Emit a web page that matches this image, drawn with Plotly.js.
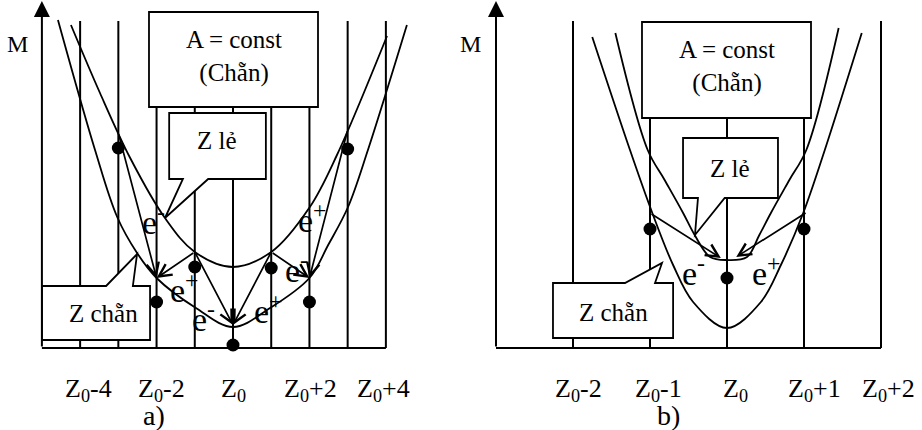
<!DOCTYPE html>
<html>
<head>
<meta charset="utf-8">
<script src="https://cdn.plot.ly/plotly-3.0.1.min.js"></script>
<style>
  html, body { margin: 0; padding: 0; background: #fff; }
  #chart { width: 922px; height: 430px; }
</style>
</head>
<body>
<div id="chart"></div>
<script>
// ---- a) mass parabolas, Z in units relative to Z0, M in arbitrary mass units ----
const lowerA_Z = [-4.58, -3.61, -3.03, -2.51, -2.0, -0.97, 0, 0.97, 2.0, 2.49, 3.01, 3.53, 4.55];
const lowerA_M = [328, 198, 131, 95, 70, 40, 21, 40, 70, 103, 141, 198, 323];
const upperA_Z = [-4.24, -3.48, -2.69, -1.78, -1.0, 0, 1.0, 2.01, 2.72, 4.03];
const upperA_M = [323, 255, 190, 130, 96, 81, 96, 141, 193, 312];
const nucleiA_Z = [-3, -2, -1, 0, 1, 2, 3];
const nucleiA_M = [200, 46, 81, 3, 80, 46, 199];
const decayA_tailZ = [-3, -1, -1, 1, 1, 3];
const decayA_tailM = [215, 96, 96, 96, 96, 218];
const decayA_headZ = [-2, -2, 0, 0, 2, 2];
const decayA_headM = [70, 70, 23, 23, 70, 70];
const decayA_label = ['e<sup>-</sup>', 'e<sup>+</sup>', 'e<sup>-</sup>', 'e<sup>+</sup>', 'e<sup>-</sup>', 'e<sup>+</sup>'];
const decayA_labelZ = [-2.09, -1.26, -0.76, 0.92, 1.67, 2.09];
const decayA_labelM = [128, 60, 31, 39, 80, 130];
const levelsA_Z = [-4, -3, -2, -1, 0, 1, 2, 3];
const ticksA_Z = [-3.79, -1.86, 0, 2.04, 3.95];
const ticksA_text = ['Z<sub>0</sub>-4', 'Z<sub>0</sub>-2', 'Z<sub>0</sub>', 'Z<sub>0</sub>+2', 'Z<sub>0</sub>+4'];

// ---- b) ----
const outerB_Z = [-1.75, -1.26, -0.97, -0.70, -0.44, 0, 0.44, 0.70, 0.99, 1.27, 1.75];
const outerB_M = [311, 198, 135, 83, 46, 20, 46, 83, 135, 198, 315];
const innerB_Z = [-1.45, -1.03, -0.81, -0.57, -0.42, -0.22, 0, 0.26, 0.42, 0.57, 0.81, 1.03, 1.45];
const innerB_M = [315, 198, 168, 135, 113, 91, 88, 91, 113, 135, 168, 198, 320];
const nucleiB_Z = [-1, 0, 1];
const nucleiB_M = [119, 70, 119];
const decayB_tailZ = [-1, 1.04];
const decayB_tailM = [135, 136];
const decayB_headZ = [-0.08, 0.12];
const decayB_headM = [90, 91];
const decayB_label = ['e<sup>-</sup>', 'e<sup>+</sup>'];
const decayB_labelZ = [-0.43, 0.51];
const decayB_labelM = [77, 77];
const levelsB_Z = [-2, -1, 0, 1];
const ticksB_Z = [-1.935, -0.896, 0.104, 1.13, 2.091];
const ticksB_text = ['Z<sub>0</sub>-2', 'Z<sub>0</sub>-1', 'Z<sub>0</sub>', 'Z<sub>0</sub>+1', 'Z<sub>0</sub>+2'];

// ---- drawing ----
const FONT = 'Liberation Serif, Times New Roman, serif';
const INK = '#000';

// frame of each panel: left axis, right edge, top of the level lines
const panels = [
  { x: 'x',  left: -5, right: 4, top: 327, levels: levelsA_Z },
  { x: 'x2', left: -3, right: 2, top: 327, levels: levelsB_Z }
];

const curve = (xs, ys, xa) => ({
  type: 'scatter', mode: 'lines', x: xs, y: ys, xaxis: xa, yaxis: 'y',
  line: { color: INK, width: 1.8, shape: 'spline', smoothing: 1 },
  hoverinfo: 'skip', showlegend: false
});
const dots = (xs, ys, xa) => ({
  type: 'scatter', mode: 'markers', x: xs, y: ys, xaxis: xa, yaxis: 'y',
  marker: { color: INK, size: 13 }, cliponaxis: false,
  hoverinfo: 'skip', showlegend: false
});

const traces = [
  curve(lowerA_Z, lowerA_M, 'x'),
  curve(upperA_Z, upperA_M, 'x'),
  dots(nucleiA_Z, nucleiA_M, 'x'),
  curve(outerB_Z, outerB_M, 'x2'),
  curve(innerB_Z, innerB_M, 'x2'),
  dots(nucleiB_Z, nucleiB_M, 'x2')
];

const shapes = [];
panels.forEach(p => {
  const ln = { color: INK, width: 2 };
  p.levels.concat([p.right]).forEach(z => shapes.push({
    type: 'line', xref: p.x, yref: 'y', x0: z, x1: z, y0: 0, y1: p.top, line: ln, layer: 'below'
  }));
  shapes.push({ type: 'line', xref: p.x, yref: 'y', x0: p.left, x1: p.right, y0: 0, y1: 0, line: ln, layer: 'below' });
});

// boxes and speech-bubble callouts (white fill hides the level lines behind them)
const poly = (pts) => 'M' + pts.map(q => q[0] + ',' + q[1]).join('L') + 'Z';
const box = (xa, pts) => ({
  type: 'path', xref: xa, yref: 'y', path: poly(pts),
  fillcolor: '#fff', line: { color: INK, width: 1.8 }, layer: 'above'
});
shapes.push(
  box('x',  [[-2.198, 336], [2.224, 336], [2.224, 241], [-2.198, 241]]),
  box('x',  [[-1.67, 235], [0.86, 235], [0.86, 169], [-0.65, 169], [-1.78, 130], [-1.31, 169], [-1.67, 169]]),
  box('x',  [[-5, 62], [-3.32, 62], [-2.51, 94], [-2.62, 62], [-2.17, 62], [-2.17, 8], [-5, 8]]),
  box('x2', [[-1.104, 326], [1.091, 326], [1.091, 230], [-1.104, 230]]),
  box('x2', [[-0.571, 210], [0.662, 210], [0.662, 150], [-0.03, 150], [-0.416, 113], [-0.377, 150], [-0.571, 150]]),
  box('x2', [[-2.26, 65], [-1.325, 65], [-0.844, 85], [-0.935, 65], [-0.70, 65], [-0.70, 10], [-2.26, 10]])
);

const annotations = [];
const text = (xa, x, y, t, size) => annotations.push({
  xref: xa, yref: 'y', x: x, y: y, text: t, showarrow: false,
  xanchor: 'center', yanchor: 'middle', font: { family: FONT, size: size, color: INK }
});
const arrow = (xa, tx, ty, hx, hy, head, size, width) => annotations.push({
  xref: xa, yref: 'y', axref: xa, ayref: 'y', x: hx, y: hy, ax: tx, ay: ty,
  text: '', showarrow: true, arrowhead: head, arrowsize: size, arrowwidth: width,
  arrowcolor: INK, standoff: 0, startstandoff: 0
});

// vertical M axes with filled arrowheads
panels.forEach(p => arrow(p.x, p.left, 0, p.left, 347, 2, 1.6, 2));

// decay arrows
decayA_tailZ.forEach((z, i) => arrow('x', z, decayA_tailM[i], decayA_headZ[i], decayA_headM[i], 5, 1.45, 1.7));
decayB_tailZ.forEach((z, i) => arrow('x2', z, decayB_tailM[i], decayB_headZ[i], decayB_headM[i], 5, 1.45, 1.7));
decayA_label.forEach((t, i) => text('x', decayA_labelZ[i], decayA_labelM[i], t, 34));
decayB_label.forEach((t, i) => text('x2', decayB_labelZ[i], decayB_labelM[i], t, 34));

// box texts
text('x', 0.03, 292, 'A = const<br>(Chẵn)', 25);
text('x', -0.42, 208, 'Z lẻ', 25);
text('x', -3.40, 35, 'Z chẵn', 25);
text('x2', 0, 282, 'A = const<br>(Chẵn)', 25);
text('x2', 0.04, 180, 'Z lẻ', 25);
text('x2', -1.48, 36, 'Z chẵn', 25);

// axis names, tick labels, panel letters
text('x', -5.65, 304, 'M', 24);
text('x2', -3.325, 304, 'M', 24);
ticksA_Z.forEach((z, i) => text('x', z, -42, ticksA_text[i], 26));
ticksB_Z.forEach((z, i) => text('x2', z, -42, ticksB_text[i], 26));
text('x', -2.07, -67, 'a)', 28);
text('x2', -0.766, -67, 'b)', 28);

const hidden = { visible: false, fixedrange: true };
const layout = {
  width: 922, height: 430,
  margin: { l: 0, r: 0, t: 0, b: 0 },
  paper_bgcolor: '#fff', plot_bgcolor: '#fff',
  showlegend: false,
  xaxis:  Object.assign({ domain: [0, 460 / 922], range: [-6.0963, 5.9393], anchor: 'y' }, hidden),
  xaxis2: Object.assign({ domain: [460 / 922, 1], range: [-3.4675, 2.5325], anchor: 'y' }, hidden),
  yaxis:  Object.assign({ domain: [0, 1], range: [-82, 348], anchor: 'x' }, hidden),
  shapes: shapes,
  annotations: annotations
};

Plotly.newPlot('chart', traces, layout, { staticPlot: true, displayModeBar: false });
</script>
</body>
</html>
